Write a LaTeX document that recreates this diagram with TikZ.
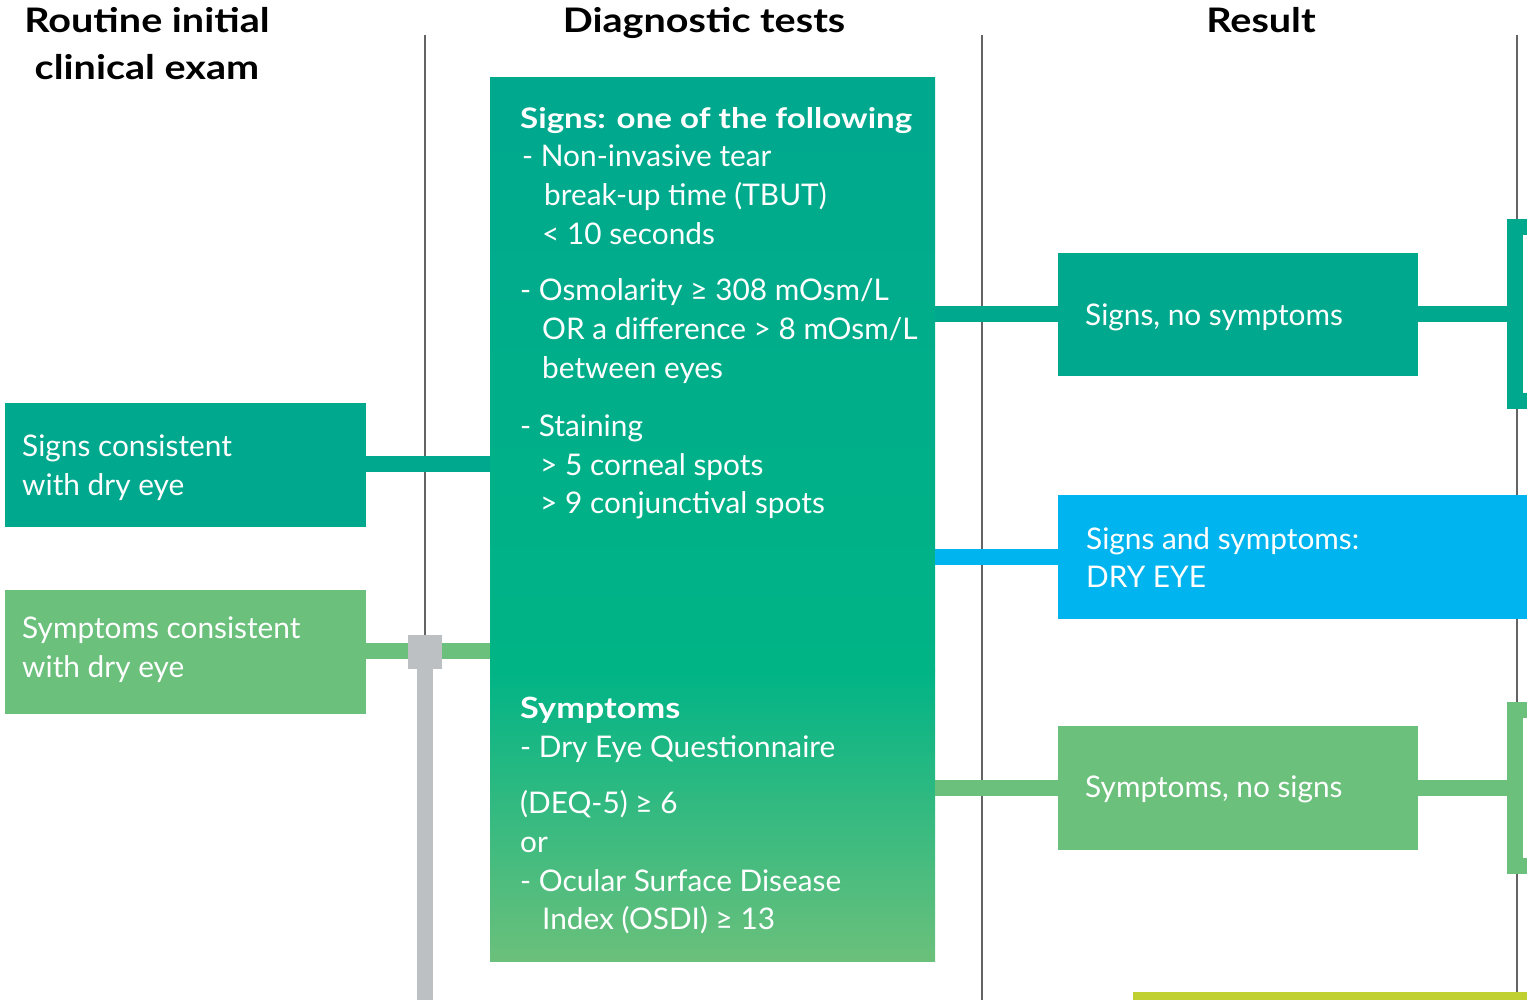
\documentclass[tikz,border=0pt]{standalone}
\usepackage{fontspec}
\setmainfont{Lato}
\newfontfamily\wbold{Lato}[FakeStretch=1.17]
\usetikzlibrary{calc}
\definecolor{cteal}{RGB}{0,168,142}
\definecolor{cmid}{RGB}{0,180,134}
\definecolor{cgreen}{RGB}{107,192,123}
\definecolor{cblue}{RGB}{0,181,239}
\definecolor{cgray}{RGB}{189,192,195}
\definecolor{cline}{RGB}{100,100,100}
\definecolor{cyellow}{RGB}{192,208,48}
\begin{document}
\begin{tikzpicture}[x=1pt,y=-1pt,
  rectbox/.style={inner sep=0pt, outer sep=0pt, anchor=north west, draw=none},
  txt/.style={anchor=base west, inner sep=0pt, text=white, font=\fontsize{29.8}{35}\selectfont},
  btxt/.style={txt, font=\wbold\bfseries\fontsize{28.3}{35}\selectfont},
  hdr/.style={anchor=base, inner sep=0pt, font=\wbold\bfseries\fontsize{33.8}{40}\selectfont},
  conn/.style={line width=16pt},
  vline/.style={draw=cline, line width=2pt}]
\useasboundingbox (0,0) rectangle (1527,1000);
% column separators
\coordinate (s1t) at (425,35); \coordinate (s1b) at (425,1000);
\coordinate (s2t) at (982,35); \coordinate (s2b) at (982,1000);
\coordinate (s3t) at (1517,35); \coordinate (s3b) at (1517,1000);
\draw[vline] (s1t) -- (s1b);
\draw[vline] (s2t) -- (s2b);
\draw[vline] (s3t) -- (s3b);
% headers
\node[hdr] (h1) at (147,33) {Routine initial};
\node[hdr] (h1b) at (147,80) {clinical exam};
\node[hdr] (h2) at (704,33) {Diagnostic tests};
\node[hdr] (h3) at (1261,33) {Result};
% boxes
\node[rectbox, fill=cteal, minimum width=361pt, minimum height=124pt] (l1) at (5,403) {};
\node[rectbox, fill=cgreen, minimum width=361pt, minimum height=124pt] (l2) at (5,590) {};
\node[rectbox, minimum width=445pt, minimum height=883pt] (main) at (490,78) {};
\shade[top color=cteal, bottom color=cmid] (main.north west) rectangle ($(main.east)+(0,670-519.5)$);
\shade[top color=cmid, bottom color=cgreen] ($(main.west)+(0,670-519.5)$) rectangle (main.south east);
\node[rectbox, fill=cteal, minimum width=360pt, minimum height=123pt] (r1) at (1058,253) {};
\node[rectbox, fill=cblue, minimum width=470pt, minimum height=124pt] (r2) at (1058,495) {};
\node[rectbox, fill=cgreen, minimum width=360pt, minimum height=124pt] (r3) at (1058,726) {};
% brackets at right edge
\node[rectbox, fill=cteal, minimum width=21pt, minimum height=190pt] (b1) at (1507,219) {};
\fill[white] ($(b1.north west)+(16,16)$) rectangle ($(b1.south east)+(0,-16)$);
\node[rectbox, fill=cgreen, minimum width=21pt, minimum height=172pt] (b3) at (1507,702) {};
\fill[white] ($(b3.north west)+(16,16)$) rectangle ($(b3.south east)+(0,-16)$);
% connectors
\draw[conn, cteal] (l1.east |- 0,464) -- (main.west |- 0,464);
\draw[conn, cgreen] (l2.east |- 0,651) -- (main.west |- 0,651);
\draw[conn, cteal] (main.east |- r1.west) -- (r1.west);
\draw[conn, cblue] (main.east |- 0,557) -- (r2.west |- 0,557);
\draw[conn, cgreen] (main.east |- r3.west) -- (r3.west);
\draw[conn, cteal] (r1.east) -- (b1.west |- r1.east);
\draw[conn, cgreen] (r3.east) -- (b3.west |- r3.east);
% gray junction
\node[rectbox, fill=cgray, minimum width=34pt, minimum height=34pt] (junc) at (408,635) {};
\coordinate (jbot) at (425,1000);
\draw[cgray, line width=16pt] (junc.south) -- (jbot);
% yellow bar
\node[rectbox, fill=cyellow, minimum width=394pt, minimum height=8pt] (ybar) at (1133,992) {};
% left texts
\node[txt] (t1a) at (22,456) {Signs consistent};
\node[txt] (t1b) at (22,495) {with dry eye};
\node[txt] (t2a) at (22,638) {Symptoms consistent};
\node[txt] (t2b) at (22,677) {with dry eye};
% result texts
\node[txt] (tr1) at (1085,326) {Signs, no symptoms};
\node[txt] (tr2a) at (1086,549) {Signs and symptoms:};
\node[txt] (tr2b) at (1086,587) {DRY EYE};
\node[txt] (tr3) at (1085,797) {Symptoms, no signs};
% main texts
\node[btxt] (m0) at (520,129) {Signs: one of the following};
\node[txt] (m1) at (522,167) {- Non-invasive tear};
\node[txt] (m2) at (544,206) {break-up time (TBUT)};
\node[txt] (m3) at (542,245) {< 10 seconds};
\node[txt] (m4) at (520,301) {- Osmolarity ≥ 308 mOsm/L};
\node[txt] (m5) at (542,340) {OR a difference > 8 mOsm/L};
\node[txt] (m6) at (542,379) {between eyes};
\node[txt] (m7) at (520,436) {- Staining};
\node[txt] (m8) at (540,475) {> 5 corneal spots};
\node[txt] (m9) at (540,513) {> 9 conjunctival spots};
\node[btxt, font=\wbold\bfseries\fontsize{29.3}{35}\selectfont] (n0) at (520,718) {Symptoms};
\node[txt] (n1) at (520,757) {- Dry Eye Questionnaire};
\node[txt] (n2) at (520,813) {(DEQ-5) ≥ 6};
\node[txt] (n3) at (520,852) {or};
\node[txt] (n4) at (520,891) {- Ocular Surface Disease};
\node[txt] (n5) at (542,929) {Index (OSDI) ≥ 13};
\end{tikzpicture}
\end{document}
